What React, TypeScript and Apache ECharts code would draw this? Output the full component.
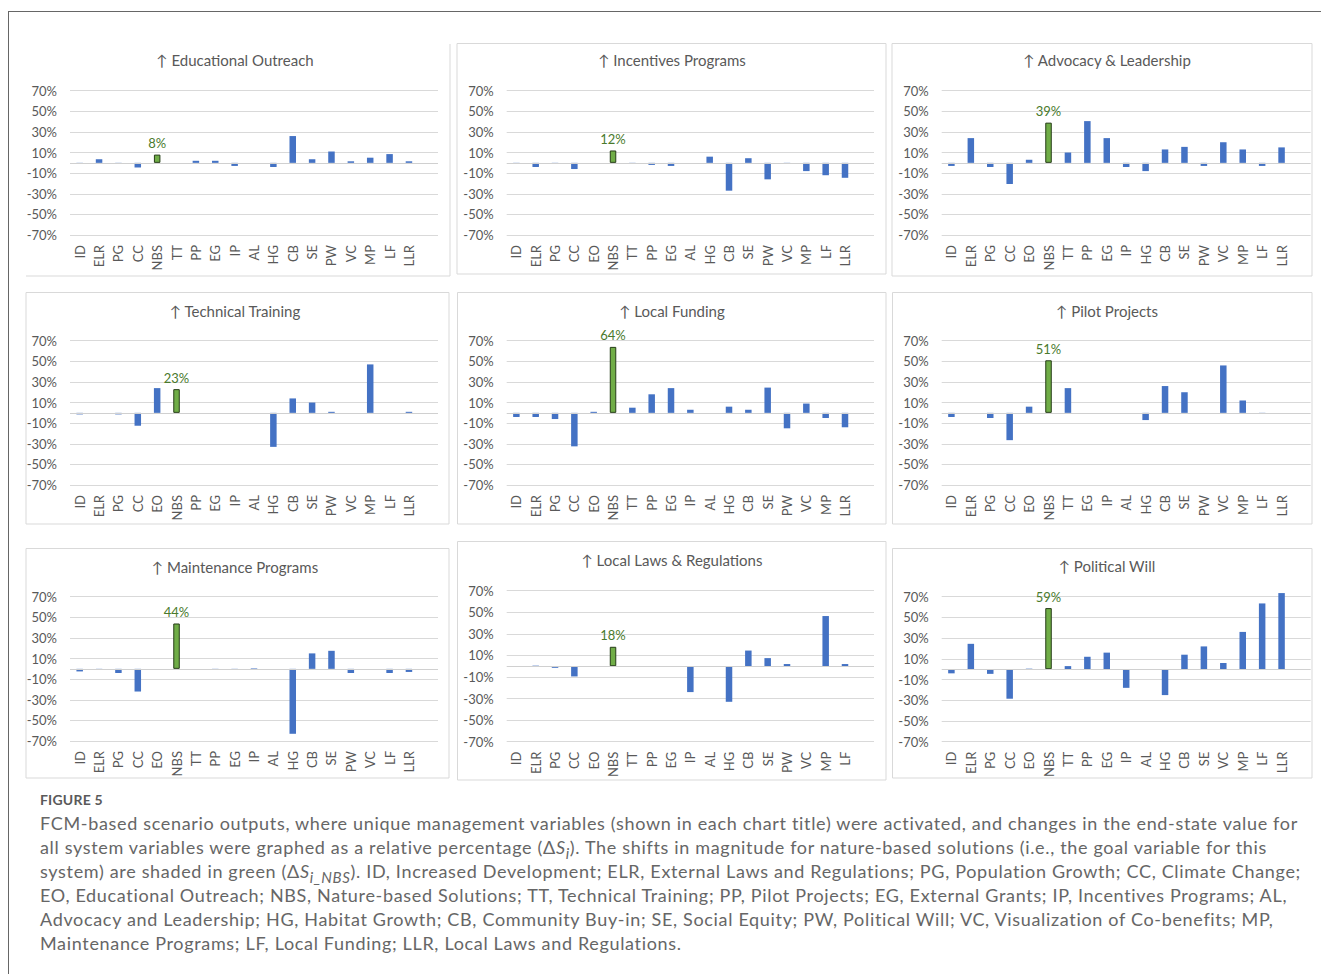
import React, { useEffect, useRef } from 'react';
import * as echarts from 'echarts';

const FONT = 'Lato, "Open Sans", "DejaVu Sans", sans-serif';

// ---------- data ----------
const panelTitles = [
  '↑ Educational Outreach',
  '↑ Incentives Programs',
  '↑ Advocacy & Leadership',
  '↑ Technical Training',
  '↑ Local Funding',
  '↑ Pilot Projects',
  '↑ Maintenance Programs',
  '↑ Local Laws & Regulations',
  '↑ Political Will',
];

const yTickLabels = ['-70%', '-50%', '-30%', '-10%', '10%', '30%', '50%', '70%'];

const eoCategories = ['ID', 'ELR', 'PG', 'CC', 'NBS', 'TT', 'PP', 'EG', 'IP', 'AL', 'HG', 'CB', 'SE', 'PW', 'VC', 'MP', 'LF', 'LLR'];
const eoValues = [-1, 3.5, -1, -4.5, 8, 0, 2, 2, -3, 0, -4, 26, 3.5, 11, 1.5, 5, 8.5, 1.5];

const ipCategories = ['ID', 'ELR', 'PG', 'CC', 'EO', 'NBS', 'TT', 'PP', 'EG', 'AL', 'HG', 'CB', 'SE', 'PW', 'VC', 'MP', 'LF', 'LLR'];
const ipValues = [-0.5, -4, -0.5, -6, 0, 12, -0.5, -2, -3, 0, 6, -27, 4.5, -16, -0.5, -8, -12, -14.5];

const alCategories = ['ID', 'ELR', 'PG', 'CC', 'EO', 'NBS', 'TT', 'PP', 'EG', 'IP', 'HG', 'CB', 'SE', 'PW', 'VC', 'MP', 'LF', 'LLR'];
const alValues = [-3, 24, -4, -20.5, 3, 39, 10, 40.5, 24, -4, -8, 13, 15.5, -3, 20, 13, -3, 15];

const ttCategories = ['ID', 'ELR', 'PG', 'CC', 'EO', 'NBS', 'PP', 'EG', 'IP', 'AL', 'HG', 'CB', 'SE', 'PW', 'VC', 'MP', 'LF', 'LLR'];
const ttValues = [-1.5, 0, -1.5, -12.5, 24, 23, 0, 0, 0, 0, -33, 14, 10, 1, 0, 47, 0, 1];

const lfCategories = ['ID', 'ELR', 'PG', 'CC', 'EO', 'NBS', 'TT', 'PP', 'EG', 'IP', 'AL', 'HG', 'CB', 'SE', 'PW', 'VC', 'MP', 'LLR'];
const lfValues = [-4, -4, -6, -32.5, 1, 64, 5, 18, 24, 3, 0, 6, 3, 24.5, -15, 9, -5, -14];

const ppCategories = ['ID', 'ELR', 'PG', 'CC', 'EO', 'NBS', 'TT', 'EG', 'IP', 'AL', 'HG', 'CB', 'SE', 'PW', 'VC', 'MP', 'LF', 'LLR'];
const ppValues = [-4, 0, -5, -26.5, 6, 51, 24, 0, 0, 0, -7, 26, 20, 0, 46, 12, -0.5, 0];

const mpCategories = ['ID', 'ELR', 'PG', 'CC', 'EO', 'NBS', 'TT', 'PP', 'EG', 'IP', 'AL', 'HG', 'CB', 'SE', 'PW', 'VC', 'LF', 'LLR'];
const mpValues = [-2.5, -0.5, -4, -22, 0, 44, 0, -0.5, -0.5, 0.5, 0, -63, 15, 17.5, -4, 0, -4, -3];

const llrCategories = ['ID', 'ELR', 'PG', 'CC', 'EO', 'NBS', 'TT', 'PP', 'EG', 'IP', 'AL', 'HG', 'CB', 'SE', 'PW', 'VC', 'MP', 'LF'];
const llrValues = [-0.5, 0.5, -1.5, -9.5, 0, 18, 0, 0, 0, -24, 0, -33, 14.5, 7.5, 2, 0, 46.5, 2];

const pwCategories = ['ID', 'ELR', 'PG', 'CC', 'EO', 'NBS', 'TT', 'PP', 'EG', 'IP', 'AL', 'HG', 'CB', 'SE', 'VC', 'MP', 'LF', 'LLR'];
const pwValues = [-4, 24.5, -4.5, -28.5, 0.5, 59, 3, 12, 16, -18, 0, -25, 14, 22, 6, 36, 63.5, 73.5];

const panelCategories = [eoCategories, ipCategories, alCategories, ttCategories, lfCategories, ppCategories, mpCategories, llrCategories, pwCategories];
const panelValues = [eoValues, ipValues, alValues, ttValues, lfValues, ppValues, mpValues, llrValues, pwValues];

// ---------- layout ----------
// grid: [left, top, width, height]; title: [cx, cy]; box: [x0, y0, x1, y1]
const layout = [
  { grid: [70, 90.7, 368, 144.3], title: [235, 60], box: [26, 44, 450, 276], partial: true },
  { grid: [506.7, 90.7, 367.3, 144.3], title: [672, 60], box: [457, 43.5, 886, 274] },
  { grid: [941.7, 90.7, 369, 144.3], title: [1107, 60], box: [892, 43.5, 1312, 276] },
  { grid: [70, 340.7, 368, 144.3], title: [235, 310.5], box: [26, 292.5, 449, 524] },
  { grid: [506.7, 340.7, 367.3, 144.3], title: [672, 310.5], box: [457.5, 292.5, 886, 524] },
  { grid: [941.7, 340.7, 369, 144.3], title: [1107, 310.5], box: [892.5, 292.5, 1312, 524] },
  { grid: [70, 596.7, 368, 144.3], title: [235, 566.5], box: [26, 548.5, 449, 778] },
  { grid: [506.7, 590.7, 367.3, 151], title: [672, 560], box: [457.5, 541.5, 886, 780] },
  { grid: [941.7, 596.7, 369, 145], title: [1107, 566], box: [892.5, 548.5, 1312, 778] },
];

const BLUE = '#4472C4';
const GREEN = '#70AD47';
const GREEN_DARK = '#4a7a2c';
const BORDER = '#d9d9d9';
const TEXT = '#595959';

function buildOption() {
  const grid: any[] = [];
  const xAxis: any[] = [];
  const yAxis: any[] = [];
  const series: any[] = [];
  const graphic: any[] = [];

  // outer frame lines
  graphic.push({ type: 'line', silent: true, shape: { x1: 8, y1: 11.5, x2: 1321, y2: 11.5 }, style: { stroke: '#666', lineWidth: 1 } });
  graphic.push({ type: 'line', silent: true, shape: { x1: 8.5, y1: 11, x2: 8.5, y2: 974 }, style: { stroke: '#666', lineWidth: 1 } });

  layout.forEach((L, i) => {
    const cats = panelCategories[i];
    const vals = panelValues[i];
    const [x0, y0, x1, y1] = L.box;
    if (L.partial) {
      graphic.push({ type: 'line', silent: true, shape: { x1: x1, y1: y0, x2: x1, y2: y1 }, style: { stroke: BORDER, lineWidth: 1 } });
      graphic.push({ type: 'line', silent: true, shape: { x1: x0, y1: y1, x2: x1, y2: y1 }, style: { stroke: BORDER, lineWidth: 1 } });
    } else {
      graphic.push({ type: 'rect', silent: true, shape: { x: x0, y: y0, width: x1 - x0, height: y1 - y0 }, style: { fill: 'none', stroke: BORDER, lineWidth: 1 } });
    }
    graphic.push({
      type: 'text', silent: true, x: L.title[0], y: L.title[1],
      style: { text: panelTitles[i], fill: TEXT, font: `15px ${FONT}`, align: 'center', verticalAlign: 'middle' },
    });

    grid.push({ left: L.grid[0], top: L.grid[1], width: L.grid[2], height: L.grid[3], containLabel: false });
    xAxis.push({
      type: 'category', gridIndex: i, data: [...cats, ''],
      axisLine: { show: false, onZero: false }, axisTick: { show: false }, splitLine: { show: false },
      axisLabel: { rotate: 90, interval: 0, margin: 10, fontSize: 13, color: TEXT, fontFamily: FONT },
    });
    // data axis (hidden)
    yAxis.push({ type: 'value', gridIndex: i, min: -70, max: 70, show: false, position: 'right' });
    // label / gridline axis
    yAxis.push({
      type: 'value', gridIndex: i, min: 0, max: 140, interval: 20, position: 'left',
      axisLine: { show: false }, axisTick: { show: false },
      axisLabel: { fontSize: 13, color: TEXT, margin: 13, fontFamily: FONT, formatter: (v: number) => yTickLabels[Math.round(v / 20)] ?? '' },
      splitLine: { lineStyle: { color: BORDER, width: 1 } },
    });
    series.push({
      type: 'bar', xAxisIndex: i, yAxisIndex: 2 * i, barWidth: 6.5, clip: false,
      itemStyle: { color: BLUE },
      data: vals.map((v, j) =>
        cats[j] === 'NBS'
          ? {
              value: v,
              itemStyle: { color: GREEN, borderColor: '#253d17', borderWidth: 1 },
              label: { show: true, position: 'top', distance: 5, color: GREEN_DARK, fontSize: 13, fontFamily: FONT, formatter: (p: any) => Math.round(p.value) + '%' },
            }
          : v
      ),
      markLine: {
        silent: true, symbol: 'none', label: { show: false },
        lineStyle: { color: '#d0d0d0', width: 1, type: 'solid' },
        data: [{ yAxis: 0 }],
      },
    });
  });

  return { animation: false, backgroundColor: '#fff', grid, xAxis, yAxis, series, graphic };
}

const captionLines: React.ReactNode[] = [
  'FCM-based scenario outputs, where unique management variables (shown in each chart title) were activated, and changes in the end-state value for',
  <>all system variables were graphed as a relative percentage (Δ<i>S</i><sub><i>i</i></sub>). The shifts in magnitude for nature-based solutions (i.e., the goal variable for this</>,
  <>system) are shaded in green (Δ<i>S</i><sub><i>i_NBS</i></sub>). ID, Increased Development; ELR, External Laws and Regulations; PG, Population Growth; CC, Climate Change;</>,
  'EO, Educational Outreach; NBS, Nature-based Solutions; TT, Technical Training; PP, Pilot Projects; EG, External Grants; IP, Incentives Programs; AL,',
  'Advocacy and Leadership; HG, Habitat Growth; CB, Community Buy-in; SE, Social Equity; PW, Political Will; VC, Visualization of Co-benefits; MP,',
  'Maintenance Programs; LF, Local Funding; LLR, Local Laws and Regulations.',
];

export default function App() {
  const ref = useRef<HTMLDivElement>(null);
  useEffect(() => {
    if (!ref.current) return;
    const chart = echarts.init(ref.current, undefined, { renderer: 'svg' });
    chart.setOption(buildOption() as any);
    return () => chart.dispose();
  }, []);
  return (
    <div style={{ position: 'absolute', left: 0, top: 0, width: 1321, height: 974, background: '#fff', overflow: 'hidden' }}>
      <div ref={ref} style={{ position: 'absolute', left: 0, top: 0, width: 1321, height: 974 }} />
      <div style={{ position: 'absolute', left: 40, top: 791, fontFamily: FONT, fontSize: 14, fontWeight: 700, color: '#5a5a5a', letterSpacing: 0.2 }}>FIGURE 5</div>
      <div style={{ position: 'absolute', left: 40, top: 811, fontFamily: FONT, fontSize: 18, lineHeight: '24px', color: '#666', whiteSpace: 'nowrap', letterSpacing: 0.67 }}>
        {captionLines.map((l, k) => (
          <div key={k} style={{ height: 24 }}>{l}</div>
        ))}
      </div>
    </div>
  );
}
